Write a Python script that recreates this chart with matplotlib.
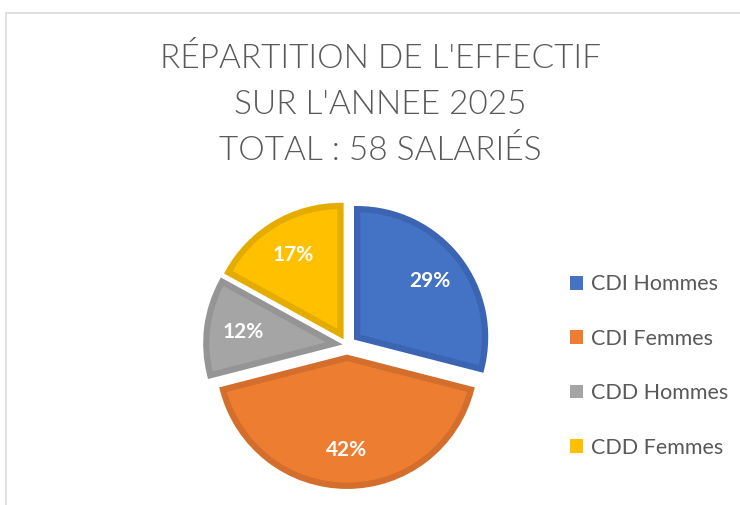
import matplotlib.pyplot as plt
from matplotlib.patches import Rectangle

categories = ["CDI Hommes", "CDI Femmes", "CDD Hommes", "CDD Femmes"]
percents = [29, 42, 12, 17]
colors = ["#4472C4", "#ED7D31", "#A5A5A5", "#FFC000"]
edges = ["#3B65B2", "#D46E2C", "#959595", "#E5AC00"]
title_lines = ["RÉPARTITION DE L'EFFECTIF", "SUR L'ANNEE 2025", "TOTAL : 58 SALARIÉS"]

plt.rcParams['font.family'] = ['Lato', 'DejaVu Sans']
W, H = 740, 505
fig = plt.figure(figsize=(W / 100, H / 100), dpi=100)

# chart area border (cropped on right and bottom)
fig.patches.append(Rectangle((6 / W, -0.1), 1.2, (H - 13) / H + 0.1, transform=fig.transFigure,
                             fill=False, edgecolor="#D9D9D9", linewidth=1.2))

# title
for i, line in enumerate(title_lines):
    fig.text(380 / W, 1 - (59 + i * 46) / H, line, ha="center", va="center",
             fontsize=24, fontweight=300, color="#595959")

# pie, centre approx at (347, 345) px
cx, cy, r = 347, 345, 128
half = 1.2 * r
ax = fig.add_axes([(cx - half) / W, (H - cy - half) / H, 2 * half / W, 2 * half / H])
wedges, texts, autotexts = ax.pie(percents, colors=colors, startangle=90, counterclock=False,
                                  explode=[0.1] * 4, autopct="%d%%", pctdistance=0.72,
                                  wedgeprops=dict(linewidth=4.5),
                                  textprops=dict(color="white", fontsize=15, fontweight="bold"))
for w, e in zip(wedges, edges):
    w.set_edgecolor(e)
    w.set_joinstyle("miter")
ax.set_xlim(-1.2, 1.2)
ax.set_ylim(-1.2, 1.2)
ax.set_aspect("equal")
ax.axis("off")

leg = fig.legend(wedges, categories, loc="center left", bbox_to_anchor=(551 / W, 1 - 366 / H),
                 frameon=False, fontsize=15.5, handlelength=0.6, handleheight=0.6,
                 handletextpad=0.35, labelspacing=1.6)
for t in leg.get_texts():
    t.set_color("#595959")
for h, c in zip(leg.legend_handles, colors):
    h.set_edgecolor("none")
    h.set_facecolor(c)

fig.savefig("out.png", dpi=100)
